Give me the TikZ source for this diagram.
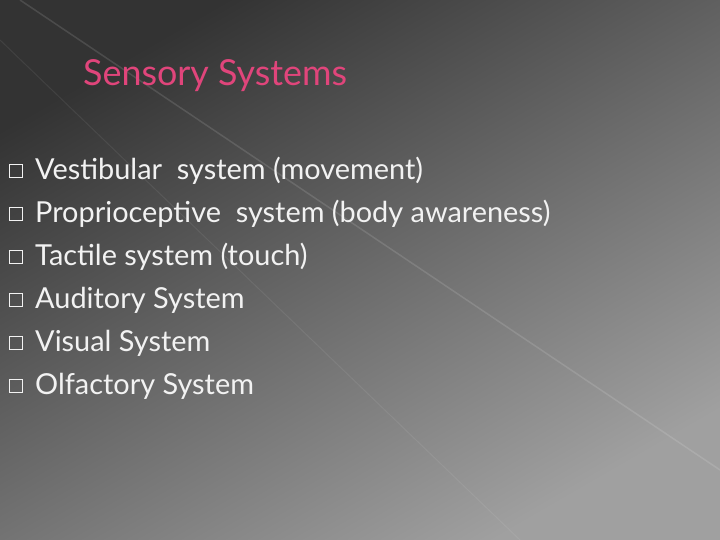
\documentclass[tikz,border=0pt]{standalone}
\usepackage{fontspec}
\setmainfont{Lato}
\definecolor{bgdark}{HTML}{333333}
\definecolor{bglight}{HTML}{A0A0A0}
\definecolor{titlepink}{HTML}{E0457B}
\definecolor{txt}{HTML}{F2F2F2}
\tikzset{
  bul/.style={draw=txt, line width=0.8bp, minimum size=13bp, inner sep=0pt},
  item/.style={anchor=west, text=txt, font=\fontsize{29}{33}\selectfont, inner sep=0pt}
}
\begin{document}
\begin{tikzpicture}[x=1bp,y=-1bp]
\useasboundingbox (0,0) rectangle (720,540);
\shade[top color=bgdark, bottom color=bglight, shading angle=30] (0,0) rectangle (720,540);
\draw[white, opacity=0.12, line width=1.5bp] (20,0) -- (720,470);
\draw[white, opacity=0.07, line width=1bp] (0,40) -- (520,540);
\node[anchor=west, text=titlepink, font=\fontsize{36}{40}\selectfont, inner sep=0pt] (title) at (83,76) {Sensory Systems};
\foreach \i/\t in {0/{Vestibular\ \ system (movement)},1/{Proprioceptive\ \ system (body awareness)},2/{Tactile system (touch)},3/{Auditory System},4/{Visual System},5/{Olfactory System}}{
  \node[bul] (b\i) at (16,{171+43*\i}) {};
  \node[item] (t\i) at (35,{171+43*\i}) {\t};
}
\end{tikzpicture}
\end{document}
